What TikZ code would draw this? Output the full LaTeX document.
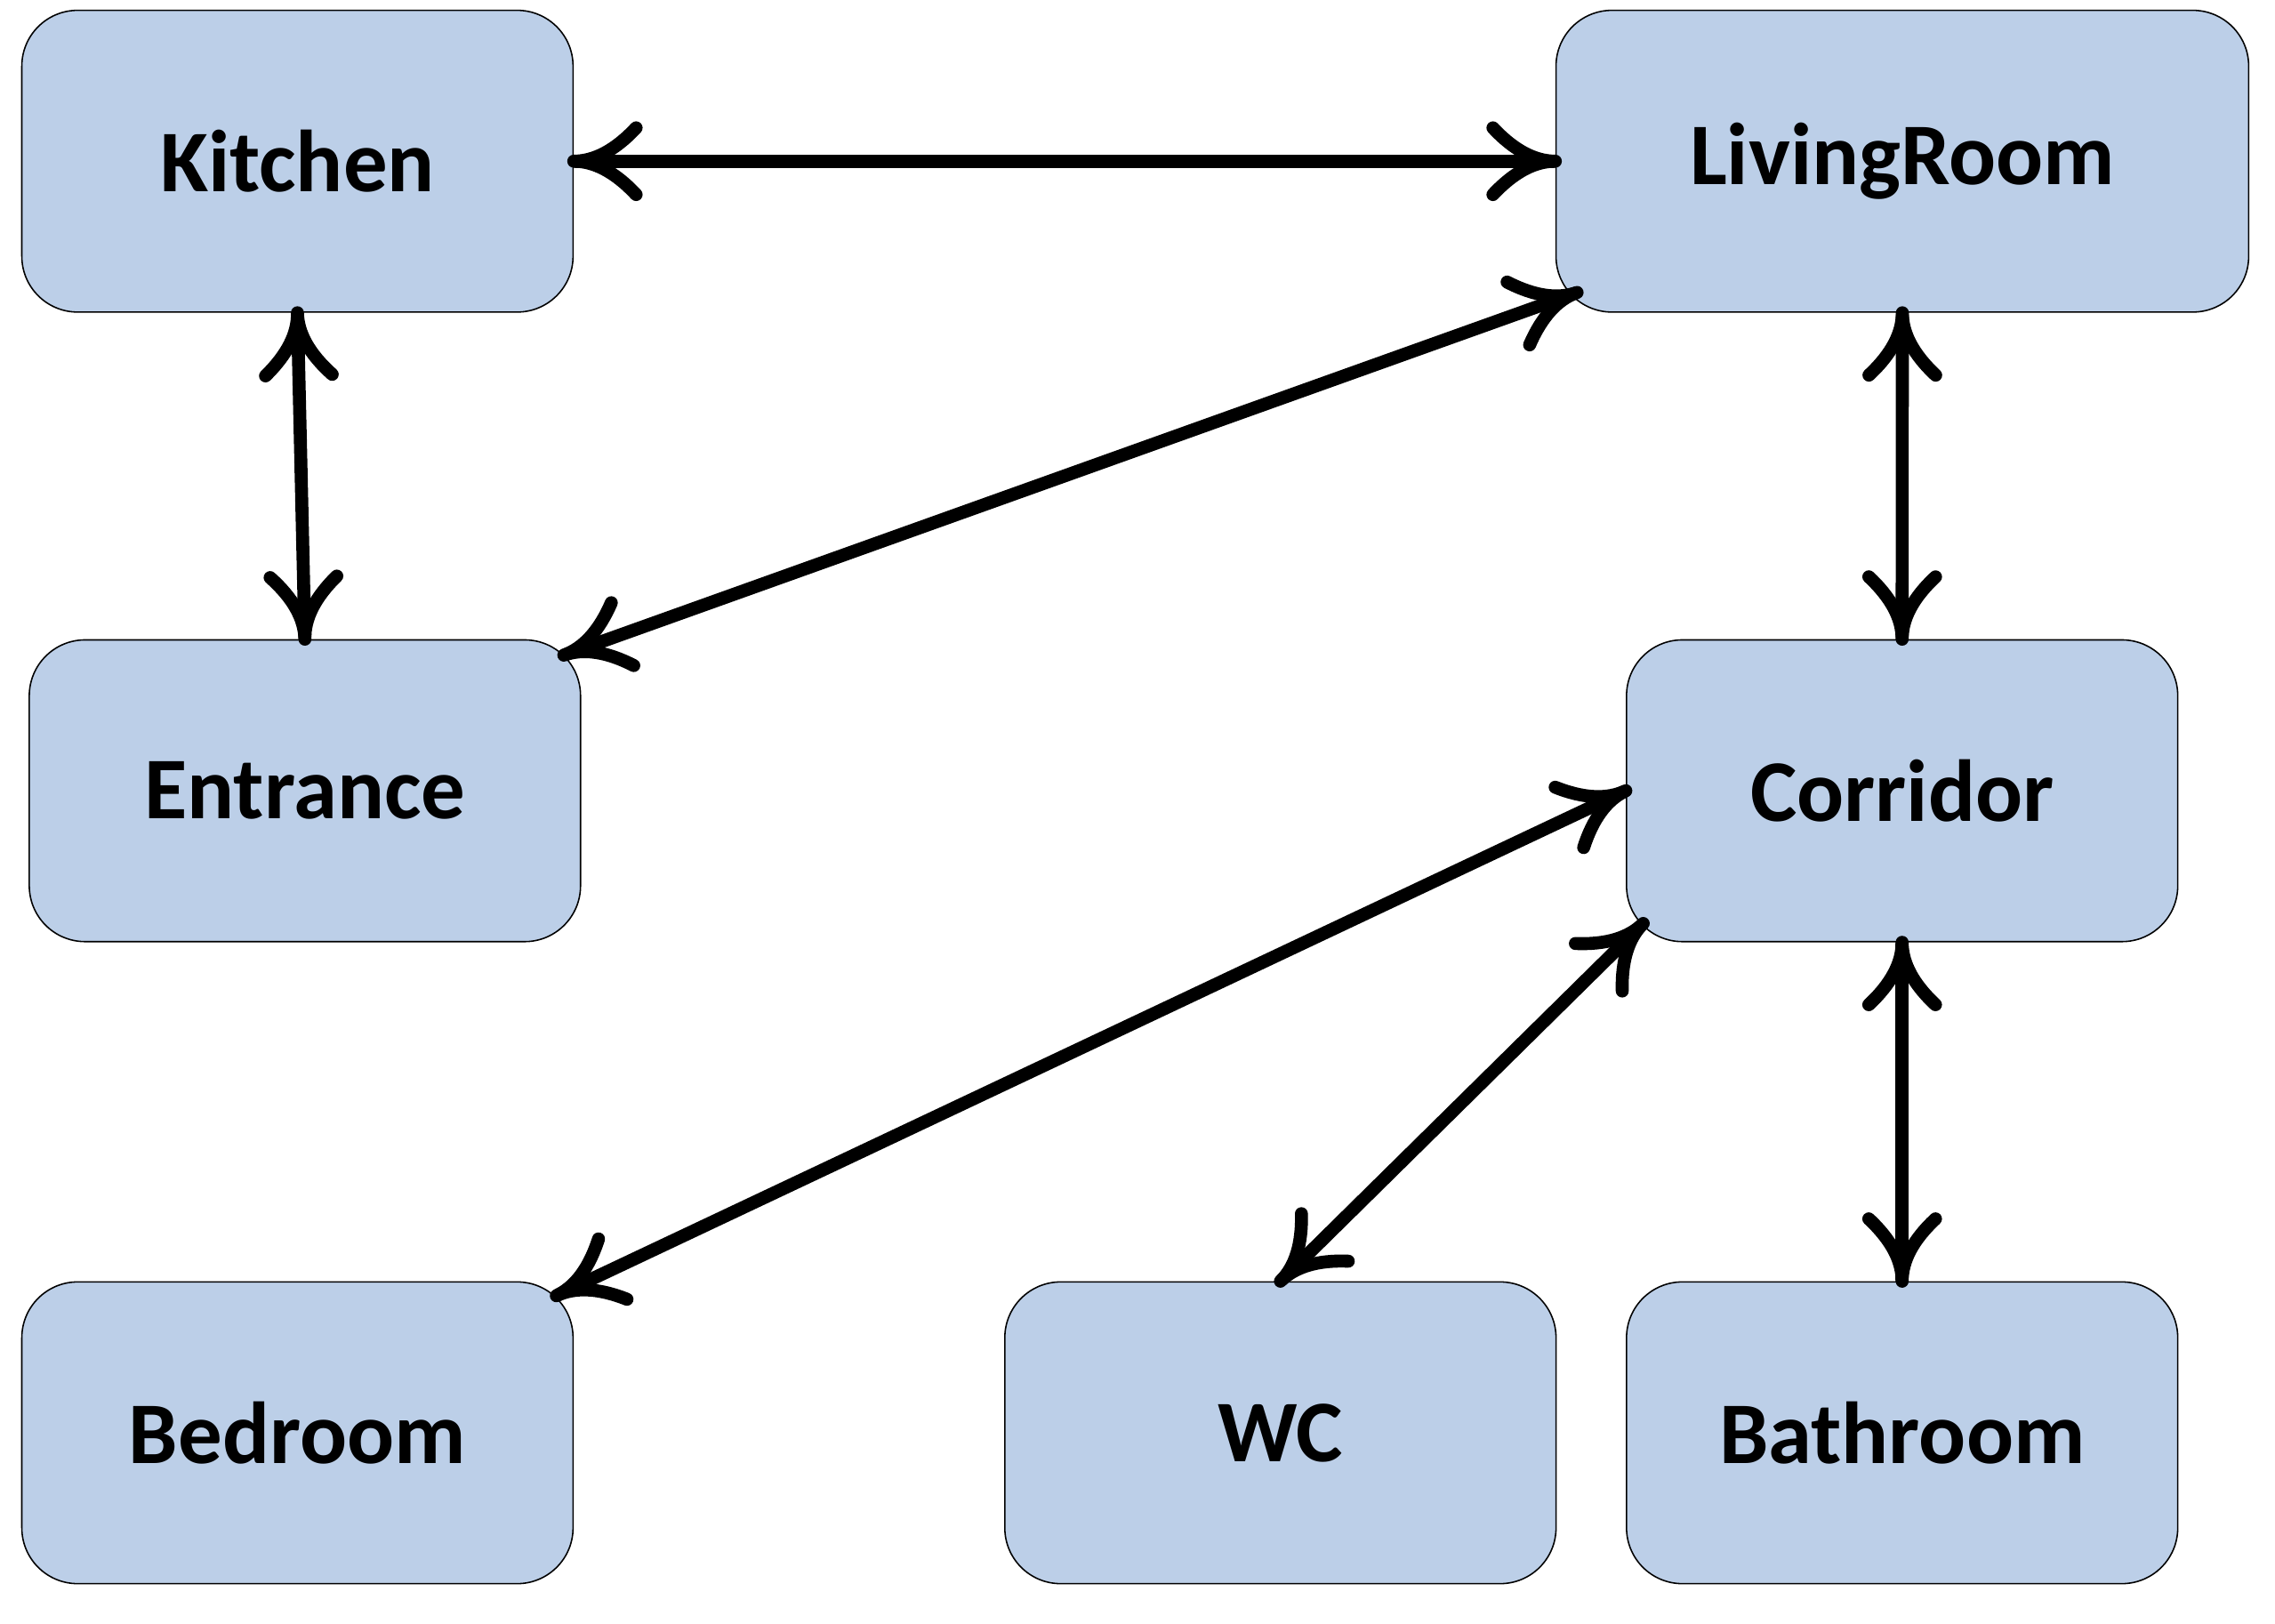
\documentclass[tikz,border=0pt]{standalone}
\usepackage{fontspec}
\setmainfont{Carlito}
\usetikzlibrary{calc,arrows.meta}
\definecolor{boxblue}{RGB}{188,207,232}
\pgfdeclarearrow{
  name = curvy,
  parameters = {\the\pgfarrowlength,\the\pgfarrowwidth},
  setup code = {
    \pgfarrowssettipend{0pt}
    \pgfarrowssetlineend{-1pt}
    \pgfarrowssetvisualbackend{-\pgfarrowlength}
    \pgfarrowssetbackend{-\pgfarrowlength}
    \pgfarrowshullpoint{0pt}{0pt}
    \pgfarrowshullpoint{-\pgfarrowlength}{.5\pgfarrowwidth}
    \pgfarrowshullpoint{-\pgfarrowlength}{-.5\pgfarrowwidth}
    \pgfarrowssavethe\pgfarrowlength
    \pgfarrowssavethe\pgfarrowwidth
  },
  drawing code = {
    \pgfsetdash{}{0pt}
    \pgfsetroundcap
    \pgfsetroundjoin
    \pgfpathmoveto{\pgfqpoint{-\pgfarrowlength}{.5\pgfarrowwidth}}
    \pgfpathquadraticcurveto{\pgfqpoint{-.5\pgfarrowlength}{0pt}}{\pgfpointorigin}
    \pgfpathquadraticcurveto{\pgfqpoint{-.5\pgfarrowlength}{0pt}}{\pgfqpoint{-\pgfarrowlength}{-.5\pgfarrowwidth}}
    \pgfusepathqstroke
  },
  defaults = {length = 0.86cm, width = 0.92cm}
}
\tikzset{
  room/.style={draw=black, line width=0.55pt, fill=boxblue, rounded corners=0.77cm,
    minimum width=7.6cm, minimum height=4.16cm, inner sep=0pt,
    font=\fontsize{34.5}{40}\selectfont\bfseries},
  widebox/.style={minimum width=9.55cm},
  link/.style={line width=5.1pt, line cap=round, {curvy}-{curvy}}
}
\begin{document}
\begin{tikzpicture}[x=0.02cm, y=-0.02cm]
\useasboundingbox (0,0) rectangle (1568,1119);
\node[room] (kit) at (205,111.1) {Kitchen};
\node[room, widebox] (liv) at (1311.15,111.1) {LivingRoom};
\node[room] (ent) at (210.15,545) {Entrance};
\node[room] (cor) at (1311,545) {Corridor};
\node[room] (bed) at (205,987.5) {Bedroom};
\node[room] (wc) at (882.5,987.5) {WC};
\node[room] (bath) at (1311,987.5) {Bathroom};

\draw[link] (kit.east) -- (liv.west);
\draw[link] (kit.south) -- (ent.north);
\draw[link] ($(liv.south west)+(15,-14)$) -- ($(ent.north east)+(-12,11)$);
\draw[link] (liv.south) -- (cor.north);
\draw[link] (cor.west) -- ($(bed.north east)+(-12,10)$);
\draw[link] ($(cor.south west)+(12,-13)$) -- (wc.north);
\draw[link] (cor.south) -- (bath.north);
\end{tikzpicture}
\end{document}
